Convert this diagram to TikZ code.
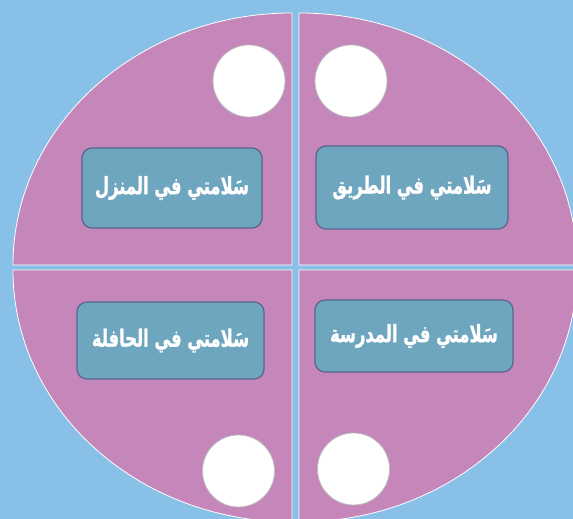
\documentclass[tikz,border=0pt]{standalone}
\usepackage{fontspec}
\usepackage{graphicx}
\TeXXeTstate=1
\newfontfamily\arabicfont[Script=Arabic,FakeBold=1.2]{DejaVu Sans Bold}
\definecolor{skyback}{HTML}{88C0E8}
\definecolor{plumfill}{HTML}{C586BA}
\definecolor{tealbox}{HTML}{6FA6BF}
\definecolor{tealedge}{HTML}{57658F}
\newcommand{\safetext}[1]{\scalebox{0.86}[1.25]{\beginR #1\endR}}
\begin{document}
\begin{tikzpicture}[x=1pt,y=1pt,
  quarter/.style={fill=plumfill, draw=white, line width=0.8pt},
  titlebox/.style={draw=tealedge, line width=1.2pt, fill=tealbox, rounded corners=10pt,
    text=white, font=\arabicfont\fontsize{19}{22}\selectfont, inner sep=0pt},
  dot/.style={circle, fill=white, draw=black!25, line width=0.8pt, minimum size=72pt, inner sep=0pt}]
\useasboundingbox (0,0) rectangle (573,519);
\fill[skyback] (0,0) rectangle (573,519);
\begin{scope}
\clip (0,0) rectangle (573,519);
% four quarters of the disc
\draw[quarter] (292,254) -- (13,254) arc[start angle=180, end angle=90, x radius=279, y radius=252] -- cycle;
\draw[quarter] (299,254) -- (299,506) arc[start angle=90, end angle=0, x radius=278, y radius=252] -- cycle;
\draw[quarter] (292,249) -- (13,249) arc[start angle=180, end angle=270, x radius=279, y radius=252] -- cycle;
\draw[quarter] (299,249) -- (299,-3) arc[start angle=270, end angle=360, x radius=278, y radius=252] -- cycle;
\end{scope}
% labels
\node[titlebox, minimum width=180pt, minimum height=80pt] (home) at (172,331) {\safetext{سَلامتي في المنزل}};
\node[titlebox, minimum width=192pt, minimum height=83pt] (road) at (412,331.5) {\safetext{سَلامتي في الطريق}};
\node[titlebox, minimum width=187pt, minimum height=77pt] (bus) at (170.5,178.5) {\safetext{سَلامتي في الحافلة}};
\node[titlebox, minimum width=198pt, minimum height=72pt] (school) at (414,183) {\safetext{سَلامتي في المدرسة}};
% white dots
\node[dot] (homedot) at (249,438) {};
\node[dot] (roaddot) at (351,438) {};
\node[dot] (busdot) at (238.5,48) {};
\node[dot] (schooldot) at (353.5,50) {};
\end{tikzpicture}
\end{document}
